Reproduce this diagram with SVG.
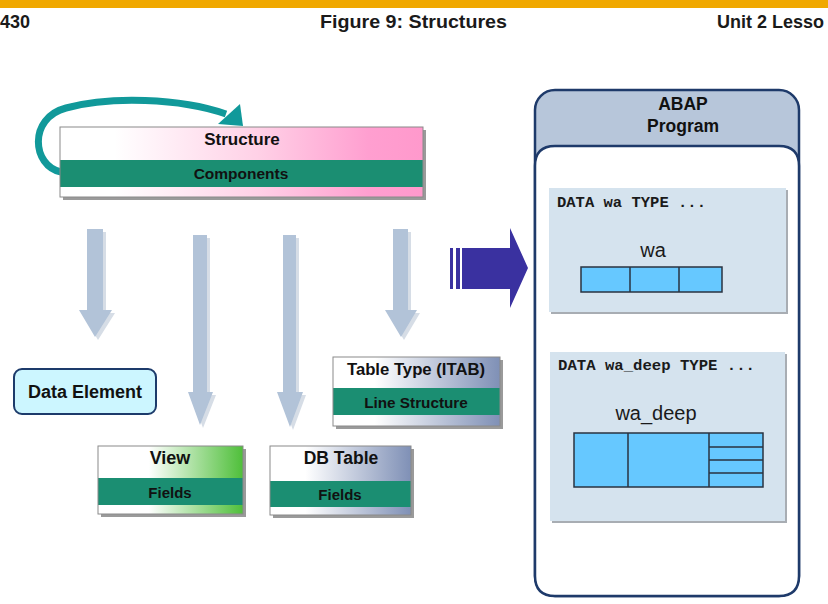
<svg xmlns="http://www.w3.org/2000/svg" width="828" height="604" viewBox="0 0 828 604">
<style>
.hdr{font-family:"Liberation Sans",Arial,sans-serif;font-weight:bold;font-size:18px;fill:#1a1a1a}
.t{font-family:"Liberation Sans",Arial,sans-serif;font-weight:bold;fill:#111;text-anchor:middle}
.mono{font-family:"Liberation Mono","Courier New",monospace;font-weight:bold;font-size:15.5px;fill:#1a1a1a}
.lbl{font-family:"Liberation Sans",Arial,sans-serif;fill:#1a1a1a;text-anchor:middle}
.band{fill:#1b8e72}
.shadow{fill:#9a9a9a}
.frame{fill:none;stroke:#8a8a8a;stroke-width:1}
.darr{fill:#b2c3d8}
.darrs{fill:#d6dde6}
.cell{fill:#66c8ff;stroke:#2a3340;stroke-width:1.5}
</style>
<defs>
<linearGradient id="gPink" x1="0" y1="0" x2="1" y2="0">
<stop offset="0.15" stop-color="#ffffff"/>
<stop offset="0.55" stop-color="#ffd0e6"/>
<stop offset="0.85" stop-color="#ff9fd0"/>
<stop offset="1" stop-color="#ff99cc"/>
</linearGradient>
<linearGradient id="gGreen" x1="0" y1="0" x2="1" y2="0">
<stop offset="0.35" stop-color="#ffffff"/>
<stop offset="1" stop-color="#4fbf3a"/>
</linearGradient>
<linearGradient id="gBlue" x1="0" y1="0" x2="1" y2="0">
<stop offset="0.25" stop-color="#ffffff"/>
<stop offset="1" stop-color="#7f90b6"/>
</linearGradient>
</defs>
<rect width="828" height="604" fill="#ffffff"/>
<!-- page header -->
<rect x="0" y="0" width="828" height="8" fill="#f0a800"/>
<text class="hdr" x="0" y="28">430</text>
<text class="hdr" x="320" y="28" textLength="187" lengthAdjust="spacingAndGlyphs">Figure 9: Structures</text>
<text class="hdr" x="717" y="28">Unit 2 Lesso</text>

<!-- connectors -->
<g id="connectors">
<path d="M 61 172 C 32 166, 28 118, 66 108 C 110 96, 180 98, 226 114" fill="none" stroke="#11999a" stroke-width="7"/>
<polygon points="240,104 243,126 218,124" fill="#11999a"/>
<!-- down arrows with shadow -->
<g id="arrow1">
<polygon class="darrs" points="90,232 106,232 106,313 115,313 98,340 82,313 90,313"/>
<polygon class="darr" points="87,229 103,229 103,310 112,310 95,337 79,310 87,310"/>
</g>
<g id="arrow2">
<polygon class="darrs" points="196,238 210,238 210,395 216,395 203,428 191,395 196,395"/>
<polygon class="darr" points="193,235 207,235 207,392 213,392 200,425 188,392 193,392"/>
</g>
<g id="arrow3">
<polygon class="darrs" points="286,238 299,238 299,395 306,395 293,430 280,395 286,395"/>
<polygon class="darr" points="283,235 296,235 296,392 303,392 290,427 277,392 283,392"/>
</g>
<g id="arrow4">
<polygon class="darrs" points="396,232 411,232 411,313 420,313 404,340 388,313 396,313"/>
<polygon class="darr" points="393,229 408,229 408,310 417,310 401,337 385,310 393,310"/>
</g>
<!-- big arrow -->
<g id="bigArrow" fill="#3a31a0">
<rect x="450" y="248" width="3" height="41"/>
<rect x="456" y="248" width="4" height="41"/>
<polygon points="462,248 510,248 510,228 528,268 510,308 510,289 462,289"/>
</g>
</g>

<!-- Structure -->
<g id="structure">
<rect class="shadow" x="63" y="130" width="363" height="70"/>
<rect x="60" y="127" width="363" height="70" fill="url(#gPink)"/>
<rect class="band" x="60" y="160" width="363" height="27"/>
<rect class="frame" x="60" y="127" width="363" height="70"/>
<text class="t" x="242" y="145" font-size="17">Structure</text>
<text class="t" x="241" y="179" font-size="15.5">Components</text>
</g>

<!-- Data Element -->
<g id="dataElement">
<rect x="14" y="369" width="142" height="45" rx="8" fill="#ccf6ff" stroke="#1d3b6b" stroke-width="2"/>
<text class="t" x="85" y="398" font-size="18">Data Element</text>
</g>

<!-- View -->
<g id="view">
<rect class="shadow" x="101" y="449" width="145" height="68"/>
<rect x="98" y="446" width="145" height="68" fill="url(#gGreen)"/>
<rect class="band" x="98" y="478" width="145" height="27"/>
<rect class="frame" x="98" y="446" width="145" height="68"/>
<text class="t" x="170" y="464" font-size="18">View</text>
<text class="t" x="170" y="498" font-size="15">Fields</text>
</g>

<!-- DB Table -->
<g id="dbTable">
<rect class="shadow" x="273" y="449" width="141" height="69"/>
<rect x="270" y="446" width="141" height="69" fill="url(#gBlue)"/>
<rect class="band" x="270" y="481" width="141" height="26"/>
<rect class="frame" x="270" y="446" width="141" height="69"/>
<text class="t" x="341" y="464" font-size="17.5">DB Table</text>
<text class="t" x="340" y="500" font-size="15">Fields</text>
</g>

<!-- Table Type -->
<g id="tableType">
<rect class="shadow" x="336" y="360" width="167" height="69"/>
<rect x="333" y="357" width="167" height="69" fill="url(#gBlue)"/>
<rect class="band" x="333" y="388" width="167" height="27"/>
<rect class="frame" x="333" y="357" width="167" height="69"/>
<text class="t" x="416" y="375" font-size="16.7">Table Type (ITAB)</text>
<text class="t" x="416" y="408" font-size="15.3">Line Structure</text>
</g>

<!-- ABAP Program -->
<g id="abapProgram">
<rect x="535" y="90" width="264" height="506" rx="20" fill="#b7c6da" stroke="#1e3a6a" stroke-width="2.5"/>
<path d="M 535 166 Q 535 146 555 146 L 779 146 Q 799 146 799 166 L 799 576 Q 799 596 779 596 L 555 596 Q 535 596 535 576 Z" fill="#ffffff" stroke="#1e3a6a" stroke-width="2.5"/>
<text class="t" x="683" y="110" font-size="17.5">ABAP</text>
<text class="t" x="683" y="132" font-size="17.5">Program</text>
</g>

<!-- wa -->
<g id="wa">
<rect x="551" y="190" width="237" height="124" fill="#a8adb3"/>
<rect x="549" y="188" width="237" height="124" fill="#d5e3ee"/>
<text class="mono" x="557" y="207" textLength="149" lengthAdjust="spacingAndGlyphs">DATA wa TYPE ...</text>
<text class="lbl" x="653" y="257" font-size="20">wa</text>
<rect class="cell" x="581" y="267" width="141" height="25"/>
<line x1="630" y1="267" x2="630" y2="292" stroke="#2a3340" stroke-width="1.5"/>
<line x1="679" y1="267" x2="679" y2="292" stroke="#2a3340" stroke-width="1.5"/>
</g>

<!-- wa_deep -->
<g id="waDeep">
<rect x="552" y="354" width="235" height="169" fill="#a8adb3"/>
<rect x="550" y="352" width="235" height="169" fill="#d5e3ee"/>
<text class="mono" x="558" y="370" textLength="197" lengthAdjust="spacingAndGlyphs">DATA wa_deep TYPE ...</text>
<text class="lbl" x="656" y="420" font-size="20">wa_deep</text>
<rect class="cell" x="574" y="433" width="189" height="54"/>
<line x1="628" y1="433" x2="628" y2="487" stroke="#2a3340" stroke-width="1.5"/>
<line x1="709" y1="433" x2="709" y2="487" stroke="#2a3340" stroke-width="1.5"/>
<line x1="709" y1="447" x2="763" y2="447" stroke="#2a3340" stroke-width="1.5"/>
<line x1="709" y1="460" x2="763" y2="460" stroke="#2a3340" stroke-width="1.5"/>
<line x1="709" y1="473" x2="763" y2="473" stroke="#2a3340" stroke-width="1.5"/>
</g>
</svg>
